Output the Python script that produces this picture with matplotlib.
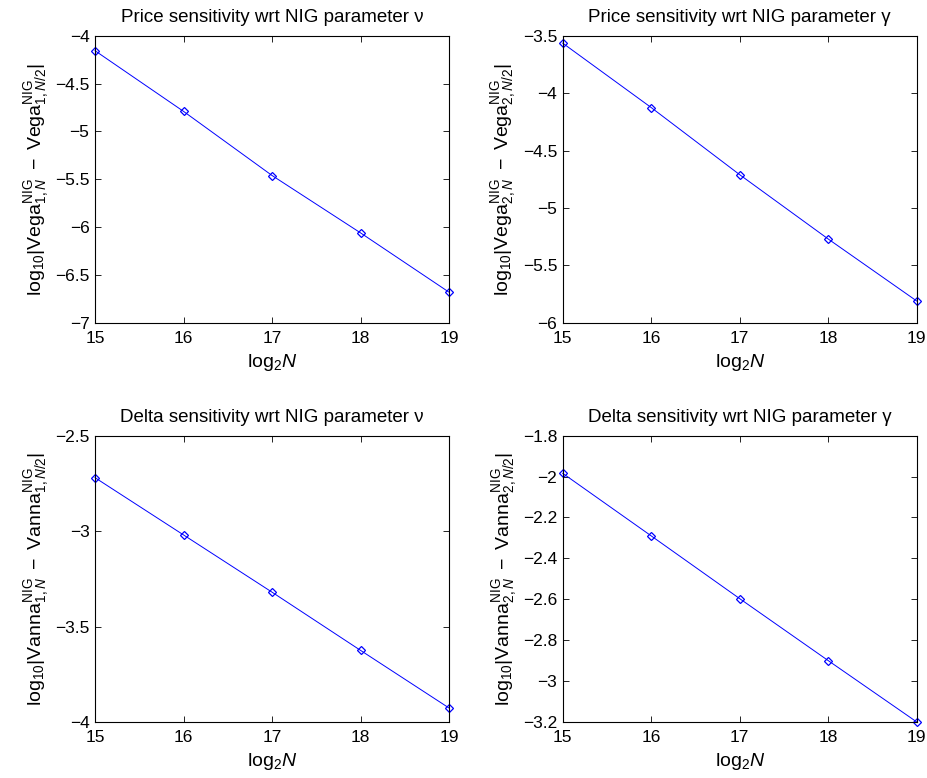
import numpy as np
import matplotlib as mpl
mpl.use('Agg')
import matplotlib.pyplot as plt
from matplotlib.ticker import FuncFormatter, MultipleLocator

plt.rcParams['font.family'] = ['Liberation Sans', 'DejaVu Sans']
plt.rcParams['mathtext.fontset'] = 'custom'
plt.rcParams['mathtext.rm'] = 'Liberation Sans'
plt.rcParams['mathtext.it'] = 'Liberation Sans:italic'
plt.rcParams['font.size'] = 10

log2N = [15, 16, 17, 18, 19]

vega_nu = [-4.156, -4.79, -5.46, -6.06, -6.68]
vega_gamma = [-3.564, -4.125, -4.71, -5.27, -5.81]
vanna_nu = [-2.72, -3.02, -3.32, -3.625, -3.927]
vanna_gamma = [-1.984, -2.29, -2.597, -2.90, -3.20]

titles = ["Price sensitivity wrt NIG parameter \u03bd",
          "Price sensitivity wrt NIG parameter \u03b3",
          "Delta sensitivity wrt NIG parameter \u03bd",
          "Delta sensitivity wrt NIG parameter \u03b3"]
ylabels = [r"$\mathrm{log}_{10}|\mathrm{Vega}^{\mathrm{NIG}}_{1,N}\ -\ \mathrm{Vega}^{\mathrm{NIG}}_{1,N/2}|$",
           r"$\mathrm{log}_{10}|\mathrm{Vega}^{\mathrm{NIG}}_{2,N}\ -\ \mathrm{Vega}^{\mathrm{NIG}}_{2,N/2}|$",
           r"$\mathrm{log}_{10}|\mathrm{Vanna}^{\mathrm{NIG}}_{1,N}\ -\ \mathrm{Vanna}^{\mathrm{NIG}}_{1,N/2}|$",
           r"$\mathrm{log}_{10}|\mathrm{Vanna}^{\mathrm{NIG}}_{2,N}\ -\ \mathrm{Vanna}^{\mathrm{NIG}}_{2,N/2}|$"]
ylims = [(-7, -4), (-6, -3.5), (-4, -2.5), (-3.2, -1.8)]
ysteps = [0.5, 0.5, 0.5, 0.2]
series = [vega_nu, vega_gamma, vanna_nu, vanna_gamma]

# axes boxes [left, bottom, width, height]
boxes = [[0.1025, 0.585, 0.382, 0.369],
         [0.607, 0.585, 0.382, 0.369],
         [0.1025, 0.072, 0.382, 0.368],
         [0.607, 0.072, 0.382, 0.368]]

fmt = FuncFormatter(lambda v, p: ("%g" % round(v, 6)).replace("-", "\u2212"))

fig = plt.figure(figsize=(9.27, 7.78), dpi=100)
for i in range(4):
    ax = fig.add_axes(boxes[i])
    ax.plot(log2N, series[i], color='blue', lw=0.7, marker='D', ms=4.5,
            mfc='none', mec='blue', mew=0.9, clip_on=False)
    ax.set_xlim(15, 19)
    ax.set_ylim(*ylims[i])
    ax.xaxis.set_major_locator(MultipleLocator(1))
    ax.yaxis.set_major_locator(MultipleLocator(ysteps[i]))
    ax.xaxis.set_major_formatter(fmt)
    ax.yaxis.set_major_formatter(fmt)
    ax.tick_params(direction='in', top=True, right=True, length=4.5, width=0.6,
                   labelsize=12.5)
    ax.tick_params(axis='x', pad=6)
    ax.tick_params(axis='y', pad=4)
    for s in ax.spines.values():
        s.set_linewidth(0.8)
    ax.set_title(titles[i], fontsize=13.5, pad=10)
    ax.set_xlabel(r"$\mathrm{log}_2N$", fontsize=14, labelpad=4)
    ax.set_ylabel(ylabels[i], fontsize=14, labelpad=3)

plt.savefig("out.png", dpi=100)
